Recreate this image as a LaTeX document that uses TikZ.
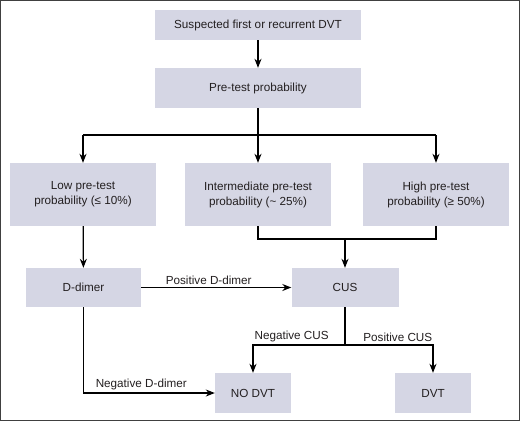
\documentclass[tikz,border=0pt]{standalone}
\usepackage{fontspec}
\setmainfont{Liberation Sans}
\usetikzlibrary{arrows.meta}
\definecolor{boxfill}{RGB}{213,214,228}
\definecolor{txt}{RGB}{35,31,32}
\tikzset{
  box/.style={fill=boxfill, text=txt, align=center, inner sep=0pt,
    font=\fontsize{11.7}{15}\selectfont},
  lbl/.style={text=txt, inner sep=2.5pt, font=\fontsize{11.7}{15}\selectfont},
  flow/.style={line width=1.2pt},
  >={Stealth[length=9pt,width=7pt]}
}
\begin{document}
\begin{tikzpicture}[x=1pt, y=-1pt]
  \useasboundingbox (0,0) rectangle (520,421);
  \draw[black!75, line width=1pt] (0.5,0.5) rectangle (519.5,420.5);
  \node[box, minimum width=206pt, minimum height=30pt] (susp) at (258,25) {Suspected first or recurrent DVT};
  \node[box, minimum width=206pt, minimum height=40pt] (pre) at (258,88) {Pre-test probability};
  \node[box, minimum width=146pt, minimum height=63pt] (low) at (83,194.5) {Low pre-test\\probability (≤ 10\%)};
  \node[box, minimum width=146pt, minimum height=63pt] (mid) at (258,194.5) {Intermediate pre-test\\probability (\string~ 25\%)};
  \node[box, minimum width=146pt, minimum height=63pt] (high) at (436,194.5) {High pre-test\\probability (≥ 50\%)};
  \node[box, minimum width=115pt, minimum height=39pt] (dd) at (83.5,287.5) {D-dimer};
  \node[box, minimum width=107pt, minimum height=39pt] (cus) at (345,287.5) {CUS};
  \node[box, minimum width=76pt, minimum height=40pt] (nodvt) at (253,393) {NO DVT};
  \node[box, minimum width=76pt, minimum height=40pt] (dvt) at (433,393) {DVT};
  \coordinate (split) at (258,135);
  \coordinate (join) at (345,239);
  \coordinate (fork) at (345,345);
  \draw[flow, ->] (susp) -- (pre);
  \draw[flow] (pre) -- (split);
  \draw[flow] (low.north |- split) -- (high.north |- split);
  \draw[flow, ->] (low.north |- split) -- (low);
  \draw[flow, ->] (split) -- (mid);
  \draw[flow, ->] (high.north |- split) -- (high);
  \draw[flow] (mid) -- (mid.south |- join) -- (high.south |- join) -- (high);
  \draw[flow, ->] (join) -- (cus);
  \draw[flow, ->] (low) -- (dd);
  \draw[flow, ->] (dd) -- node[lbl, above, pos=.45] {Positive D-dimer} (cus);
  \draw[flow] (cus) -- (fork);
  \draw[flow, ->] (fork) -| node[lbl, above, pos=.29] {Negative CUS} (nodvt);
  \draw[flow, ->] (fork) -| node[lbl, above, pos=.30] {Positive CUS} (dvt);
  \draw[flow, ->] (dd) |- node[lbl, above, pos=.72] {Negative D-dimer} (nodvt);
\end{tikzpicture}
\end{document}
